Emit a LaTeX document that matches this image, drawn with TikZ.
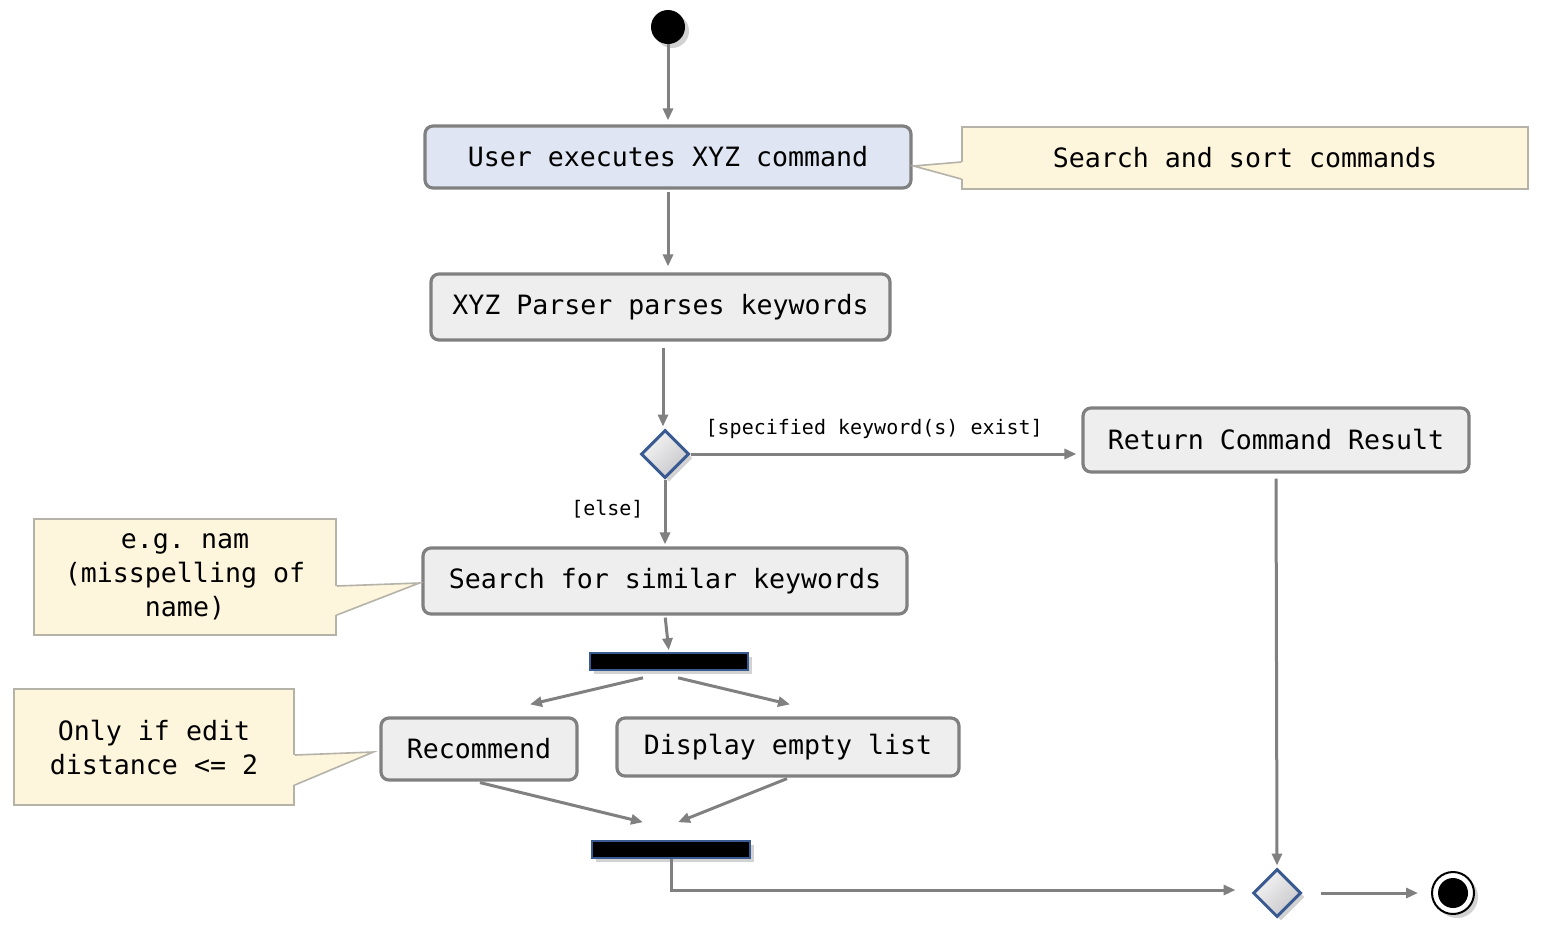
\documentclass[tikz,border=0pt]{standalone}
\usepackage{fontspec}
\setmonofont{DejaVu Sans Mono}
\usetikzlibrary{arrows.meta,shapes.geometric,shadows,calc}

\definecolor{flowgray}{HTML}{808080}
\definecolor{boxgray}{HTML}{EEEEEE}
\definecolor{boxblue}{HTML}{DFE5F2}
\definecolor{notebg}{HTML}{FEF5DD}
\definecolor{noteline}{HTML}{B5B2A8}
\definecolor{decblue}{HTML}{3A5A92}

\begin{document}
\begin{tikzpicture}[x=0.5pt, y=-0.5pt,
        every node/.style={font=\ttfamily\fontsize{13.3}{17}\selectfont},
        action/.style={draw=flowgray, line width=1.6pt, rounded corners=4pt, fill=boxgray, align=center, inner sep=0pt},
        note/.style={draw=noteline, line width=0.8pt, fill=notebg, align=center, inner sep=0pt},
        decision/.style={diamond, aspect=1, draw=decblue, line width=1.5pt, inner sep=0pt, minimum size=24pt,
            top color=black!4, bottom color=blue!8!black!22, shading angle=45,
            drop shadow={shadow xshift=2pt, shadow yshift=-2pt, opacity=0.35}},
        syncbar/.style={draw=decblue, fill=black, line width=0.8pt, minimum width=79pt, minimum height=8.5pt, inner sep=0pt,
            drop shadow={shadow xshift=2pt, shadow yshift=-2pt, opacity=0.35}},
        flow/.style={draw=flowgray, line width=1.5pt, -{Triangle[length=6pt,width=5pt]}},
        guard/.style={font=\ttfamily\fontsize{10}{12}\selectfont, inner sep=2pt}]
    \fill[white] (0,0) rectangle (1550,938);
    \useasboundingbox (0,0) rectangle (1550,938);

    % activities
    \node[circle, fill=black, minimum size=17pt, inner sep=0pt,
        drop shadow={shadow xshift=2pt, shadow yshift=-2pt, opacity=0.35}] (start) at (668,27) {};
    \node[action, fill=boxblue, minimum width=243pt, minimum height=31pt] (cmd) at (668,157) {User executes XYZ command};
    \node[action, minimum width=229.5pt, minimum height=33pt] (parse) at (660.5,307) {XYZ Parser parses keywords};
    \node[decision] (check) at (665,454) {};
    \node[action, minimum width=193pt, minimum height=32pt] (result) at (1276,440) {Return Command Result};
    \node[action, minimum width=242pt, minimum height=33pt] (search) at (665,581) {Search for similar keywords};
    \node[syncbar] (fork) at (669,661.5) {};
    \node[action, minimum width=98pt, minimum height=31pt] (rec) at (479,749) {Recommend};
    \node[action, minimum width=171pt, minimum height=29pt] (empty) at (788,747) {Display empty list};
    \node[syncbar] (join) at (671,849.5) {};
    \node[decision] (merge) at (1277,893) {};
    \node[circle, draw=black, line width=1pt, fill=white, minimum size=21pt, inner sep=0pt,
        drop shadow={shadow xshift=2pt, shadow yshift=-2pt, opacity=0.35}] (stop) at (1453,893) {};
    \node[circle, fill=black, minimum size=15pt, inner sep=0pt] (stopdot) at (stop) {};

    % notes
    \node[note, minimum width=283pt, minimum height=31pt] (sortnote) at (1245,158) {Search and sort commands};
    \node[note, minimum width=151pt, minimum height=58pt] (typonote) at (185,577) {e.g. nam\\(misspelling of\\name)};
    \node[note, minimum width=140pt, minimum height=58pt] (editnote) at (154,747) {Only if edit\\distance <= 2};

    % callout pointers
    \fill[notebg] ($(sortnote.west)+(2,4)$) -- ($(cmd.east)+(1,9)$) -- ($(sortnote.west)+(2,21)$) -- cycle;
    \draw[noteline, line width=0.8pt] ($(sortnote.west)+(0,4)$) -- ($(cmd.east)+(1,9)$) -- ($(sortnote.west)+(0,21)$);
    \fill[notebg] ($(typonote.east)+(-2,9)$) -- ($(search.west)+(-2,2)$) -- ($(typonote.east)+(-2,38)$) -- cycle;
    \draw[noteline, line width=0.8pt] ($(typonote.east)+(0,9)$) -- ($(search.west)+(-2,2)$) -- ($(typonote.east)+(0,38)$);
    \fill[notebg] ($(editnote.east)+(-2,8)$) -- ($(rec.west)+(-6,3)$) -- ($(editnote.east)+(-2,38)$) -- cycle;
    \draw[noteline, line width=0.8pt] ($(editnote.east)+(0,8)$) -- ($(rec.west)+(-6,3)$) -- ($(editnote.east)+(0,38)$);

    % flows
    \draw[flow, shorten >=2pt] (start) -- (cmd);
    \draw[flow, shorten <=1pt, shorten >=3pt] (cmd.south) -- (cmd.south |- parse.north);
    \draw[flow, shorten <=3pt, shorten >=1pt] ($(check.north |- parse.south)+(-2,0)$) -- ($(check.north)+(-2,0)$);
    \draw[flow, shorten >=2.5pt] (check.east) -- (check.east -| result.west)
        node[guard, pos=0.47, above=5pt] {[specified keyword(s) exist]};
    \draw[flow, shorten >=1pt] (check.south) -- (check.south |- search.north)
        node[guard, pos=0.45, left=8pt] {[else]};
    \draw[flow, shorten <=1pt, shorten >=1pt] (search.south) -- (fork.north);
    \draw[flow] ($(fork.south)+(-26,7)$) -- ($(rec.north)+(51,-12)$);
    \draw[flow] ($(fork.south)+(9,7)$) -- ($(empty.north)+(2,-12)$);
    \draw[flow] ($(rec.south)+(1,1)$) -- ($(join.north)+(-28,-18)$);
    \draw[flow] ($(empty.south)+(-1,1)$) -- ($(join.north)+(7,-18)$);
    \draw[flow, shorten >=8pt] (join.south) |- ($(merge.west)+(0,-3)$);
    \draw[flow, shorten <=2.5pt, shorten >=1pt] (result.south) -- (merge.north);
    \draw[flow, shorten <=9pt, shorten >=6.5pt] (merge.east) -- (stop.west);
\end{tikzpicture}
\end{document}
